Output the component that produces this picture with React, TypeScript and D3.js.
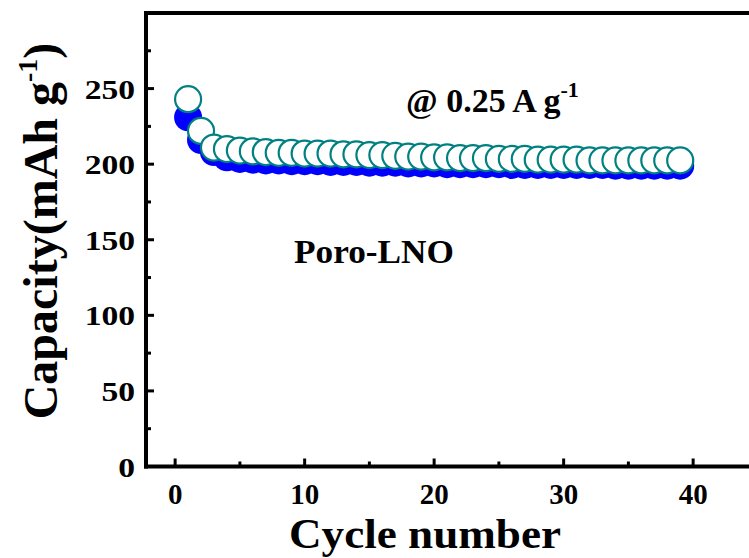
import React from "react";
import * as d3 from "d3";

const cycles = [1,2,3,4,5,6,7,8,9,10,11,12,13,14,15,16,17,18,19,20,21,22,23,24,25,26,27,28,29,30,31,32,33,34,35,36,37,38,39];
const blueCapacity = [231,216,208,204.5,203.5,203,202.5,202.5,202,202,202,201.5,201.5,201.5,201,201,201,200.5,200.5,200.5,200,200,200,200,200,199.5,199.5,199.5,199.5,199.5,199.5,199.5,199.5,199,199,199,199,199,199];
const tealCapacity = [243,222,211,210,209,208.5,208,207.5,207.5,207,207,207,206.5,206.5,206,206,205.5,205,205,204.5,204.5,204,204,204,203.5,203.5,203.5,203,203,203,203,202.5,202.5,202.5,202.5,202.5,202.5,202.5,202.5];
const xMajor = [0,10,20,30,40];
const xMinor = [5,15,25,35,45];
const yMajor = [0,50,100,150,200,250];
const yMinor = [25,75,125,175,225,275];

const W = 749, H = 558;
const left = 146, top = 13, bottom = 466.5, right = 770;

export default function App() {
  const x = d3.scaleLinear().domain([-2.25, 46]).range([left, left + 48.25 * 12.95]);
  const y = d3.scaleLinear().domain([0, 300]).range([bottom, top]);
  const font = "'Liberation Serif', 'Times New Roman', serif";
  return (
    <svg width={W} height={H} style={{ position: "absolute", left: 0, top: 0, background: "#fff" }}>
      <rect x={0} y={0} width={W} height={H} fill="#fff" />
      {/* frame */}
      <line x1={left} x2={right} y1={top} y2={top} stroke="#000" strokeWidth={4} />
      <line x1={left} x2={left} y1={top - 2} y2={bottom + 2} stroke="#000" strokeWidth={4} />
      <line x1={left - 2} x2={right} y1={bottom} y2={bottom} stroke="#000" strokeWidth={4} />
      {/* ticks */}
      {xMajor.map(v => (
        <line key={"xm" + v} x1={x(v)} x2={x(v)} y1={bottom} y2={bottom - 8} stroke="#000" strokeWidth={3} />
      ))}
      {xMinor.map(v => (
        <line key={"xn" + v} x1={x(v)} x2={x(v)} y1={bottom} y2={bottom - 5} stroke="#000" strokeWidth={3} />
      ))}
      {yMajor.map(v => (
        <line key={"ym" + v} x1={left} x2={left + 8} y1={y(v)} y2={y(v)} stroke="#000" strokeWidth={3} />
      ))}
      {yMinor.map(v => (
        <line key={"yn" + v} x1={left} x2={left + 5} y1={y(v)} y2={y(v)} stroke="#000" strokeWidth={3} />
      ))}
      {/* tick labels */}
      {xMajor.map(v => (
        <text key={"xl" + v} x={x(v)} y={504} textAnchor="middle" fontFamily={font} fontWeight="bold" fontSize={29}>{v}</text>
      ))}
      {yMajor.map(v => (
        <text key={"yl" + v} transform={`translate(135,${y(v) + 10}) scale(1.2,1)`} textAnchor="end" fontFamily={font} fontWeight="bold" fontSize={28}>{v}</text>
      ))}
      {/* axis titles */}
      <text x={425} y={548} textAnchor="middle" fontFamily={font} fontWeight="bold" fontSize={42} textLength={272} lengthAdjust="spacingAndGlyphs">Cycle number</text>
      <text transform="translate(57,231) rotate(-90)" textAnchor="middle" fontFamily={font} fontWeight="bold" fontSize={48}>
        Capacity(mAh g<tspan dy={-20} fontSize={28}>-1</tspan><tspan dy={20}>)</tspan>
      </text>
      {/* data */}
      {cycles.map((c, i) => (
        <circle key={"b" + c} cx={x(c)} cy={y(blueCapacity[i])} r={14} fill="#0000ff" />
      ))}
      {cycles.map((c, i) => (
        <circle key={"t" + c} cx={x(c)} cy={y(tealCapacity[i])} r={13} fill="#fff" stroke="#008080" strokeWidth={2.2} />
      ))}
      {/* annotations */}
      <text x={406} y={112} fontFamily={font} fontWeight="bold" fontSize={34}>
        @ 0.25 A g<tspan dy={-15} fontSize={22}>-1</tspan>
      </text>
      <text x={294} y={263} fontFamily={font} fontWeight="bold" fontSize={34} textLength={160} lengthAdjust="spacingAndGlyphs">Poro-LNO</text>
    </svg>
  );
}
